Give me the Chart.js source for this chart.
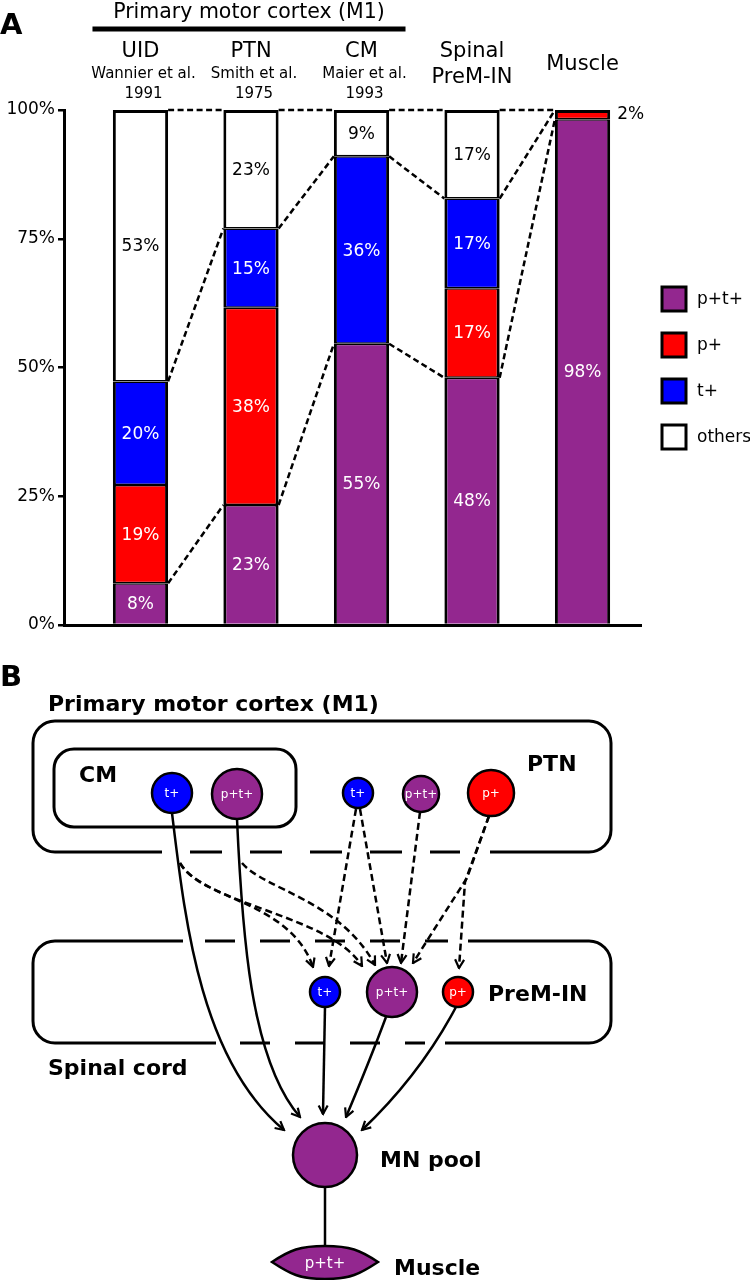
<!DOCTYPE html>
<html>
<head>
<meta charset="utf-8">
<script src="https://cdn.jsdelivr.net/npm/chart.js@4.4.0/dist/chart.umd.min.js"></script>
<style>
  html, body { margin: 0; padding: 0; background: #fff; }
  #wrap { position: relative; width: 750px; height: 1280px; }
  #cA { position: absolute; left: 0; top: 0; }
  #diagB { position: absolute; left: 0; top: 0; }
  #diagB text { font-family: "DejaVu Sans", sans-serif; font-weight: bold; fill: #000; }
  #diagB text.cell { font-weight: normal; fill: #fff; text-anchor: middle; dominant-baseline: central; }
</style>
</head>
<body>
<div id="wrap">
<canvas id="cA" width="750" height="645"></canvas>

<!-- Panel B : skema litar -->
<svg id="diagB" width="750" height="1280" viewBox="0 0 750 1280">
  <defs>
    <marker id="ah" viewBox="0 0 12 12" refX="10.5" refY="6" markerWidth="12" markerHeight="12"
            markerUnits="userSpaceOnUse" orient="auto">
      <path d="M2,1.5 L10.5,6 L2,10.5" fill="none" stroke="#000" stroke-width="2.2" stroke-dasharray="none"/>
    </marker>
  </defs>

  <text x="0" y="686" font-size="29">B</text>
  <text x="48" y="711" font-size="22">Primary motor cortex (M1)</text>

  <!-- kotak M1 -->
  <path d="M162 852 H55 A22 22 0 0 1 33 830 V743 A22 22 0 0 1 55 721 H589 A22 22 0 0 1 611 743 V830 A22 22 0 0 1 589 852 H490"
        fill="none" stroke="#000" stroke-width="3"/>
  <path d="M190 852 H460" stroke="#000" stroke-width="3" stroke-dasharray="32 28"/>
  <rect x="54" y="749" width="242" height="78" rx="20" fill="none" stroke="#000" stroke-width="3"/>
  <text x="79" y="782" font-size="22">CM</text>
  <text x="527" y="771" font-size="22">PTN</text>

  <!-- kotak saraf tunjang -->
  <path d="M183 941 H55 A22 22 0 0 0 33 963 V1021 A22 22 0 0 0 55 1043 H216 M445 1043 H589 A22 22 0 0 0 611 1021 V963 A22 22 0 0 0 589 941 H468"
        fill="none" stroke="#000" stroke-width="3"/>
  <path d="M205 941 H448" stroke="#000" stroke-width="3" stroke-dasharray="30 25"/>
  <path d="M240 1043 H425" stroke="#000" stroke-width="3" stroke-dasharray="30 25"/>
  <text x="488" y="1001" font-size="22">PreM-IN</text>
  <text x="48" y="1075" font-size="22">Spinal cord</text>

  <!-- anak panah putus-putus -->
  <g fill="none" stroke="#000" stroke-width="2.5" stroke-dasharray="7 4" marker-end="url(#ah)">
    <path d="M180 863 C200 900 290 900 313 967"/>
    <path d="M180 863 C205 905 330 915 362 966"/>
    <path d="M242 863 C265 890 340 900 375 965"/>
    <path d="M356 809 L329 966"/>
    <path d="M360 809 L387 963"/>
    <path d="M420 812 L401 963"/>
    <path d="M489 816 L467 878 Q440 920 413 963"/>
    <path d="M489 816 L465 882 L459 968"/>
  </g>

  <!-- anak panah penuh -->
  <g fill="none" stroke="#000" stroke-width="2.5" marker-end="url(#ah)">
    <path d="M172 813 C185 920 200 1060 284 1130"/>
    <path d="M237 819 C242 930 250 1060 300 1117"/>
    <path d="M325 1007 L323 1114"/>
    <path d="M386 1017 Q370 1060 346 1117"/>
    <path d="M456 1007 Q420 1075 362 1130"/>
  </g>
  <path d="M325 1187 V1247" stroke="#000" stroke-width="2.5"/>

  <!-- sel -->
  <g stroke="#000" stroke-width="2.5">
    <circle cx="172" cy="793" r="20" fill="#0000FF"/>
    <circle cx="237" cy="794" r="25" fill="#93278F"/>
    <circle cx="358" cy="793" r="15" fill="#0000FF"/>
    <circle cx="421" cy="794" r="18" fill="#93278F"/>
    <circle cx="491" cy="793" r="23" fill="#FF0000"/>
    <circle cx="325" cy="992" r="15" fill="#0000FF"/>
    <circle cx="392" cy="992" r="25" fill="#93278F"/>
    <circle cx="458" cy="992" r="15" fill="#FF0000"/>
    <circle cx="325" cy="1155" r="32" fill="#93278F"/>
    <path d="M272 1262 C290 1250 300 1246 325 1246 C350 1246 360 1250 378 1262 C360 1274 350 1279 325 1279 C300 1279 290 1274 272 1262 Z" fill="#93278F"/>
  </g>
  <text class="cell" x="172" y="793" font-size="12">t+</text>
  <text class="cell" x="237" y="794" font-size="12">p+t+</text>
  <text class="cell" x="358" y="793" font-size="12">t+</text>
  <text class="cell" x="421" y="794" font-size="12">p+t+</text>
  <text class="cell" x="491" y="793" font-size="12">p+</text>
  <text class="cell" x="325" y="992" font-size="12">t+</text>
  <text class="cell" x="392" y="992" font-size="12">p+t+</text>
  <text class="cell" x="458" y="992" font-size="12">p+</text>
  <text class="cell" x="325" y="1263" font-size="15">p+t+</text>
  <text x="380" y="1167" font-size="22">MN pool</text>
  <text x="394" y="1275" font-size="22">Muscle</text>
</svg>
</div>

<script>
// ==========================================
// PANEL A: carta bar bertindan (%)
// ==========================================

const categories = ['UID', 'PTN', 'CM', 'Spinal\nPreM-IN', 'Muscle'];
const sources = ['Wannier et al.\n1991', 'Smith et al.\n1975', 'Maier et al.\n1993', '', ''];
const groupTitle = 'Primary motor cortex (M1)';   // meliputi 3 kategori pertama

const ptValues    = [8.1, 23.3, 54.6, 48.0, 98.2];  // p+t+
const pValues     = [19.1, 38.3, 0, 17.4, 1.8];     // p+
const tValues     = [20.1, 15.4, 36.4, 17.4, 0];    // t+
const otherValues = [52.7, 23.0, 9.0, 17.2, 0];     // others
const yTicks = [0, 25, 50, 75, 100];

const series = [ptValues, pValues, tValues, otherValues];
const FONT = '"DejaVu Sans", sans-serif';

function edgeWidth(c) {
    if (c.dataIndex === undefined) return 3;
    const i = c.dataIndex, di = c.datasetIndex;
    const isTop = series.slice(di + 1).every(s => !s[i]);
    return { top: isTop ? 3 : 1.5, bottom: di === 0 ? 0 : 1.5, left: 3, right: 3 };
}

function makeBar(label, values, colour, textColor) {
    return {
        label: label,
        data: values.map((v, i) => ({ x: i, y: v || null })),
        backgroundColor: colour, borderColor: '#000', borderWidth: edgeWidth,
        borderSkipped: false, barPercentage: 0.5, categoryPercentage: 1,
        textColor: textColor
    };
}

// label peratus dalam setiap segmen
const barLabels = {
    id: 'barLabels',
    afterDatasetsDraw(chart) {
        const ctx = chart.ctx;
        ctx.save();
        ctx.font = '17px ' + FONT;
        ctx.textBaseline = 'middle';
        chart.data.datasets.forEach((ds, di) => {
            chart.getDatasetMeta(di).data.forEach((el, i) => {
                const v = ds.data[i].y;
                if (!v) return;
                const txt = Math.round(v) + '%';
                const midY = (el.y + el.base) / 2;
                if (Math.abs(el.base - el.y) < 16) {
                    ctx.fillStyle = '#000'; ctx.textAlign = 'left';
                    ctx.fillText(txt, el.x + el.width / 2 + 7, midY);
                } else {
                    ctx.fillStyle = ds.textColor; ctx.textAlign = 'center';
                    ctx.fillText(txt, el.x, midY + 1);
                }
            });
        });
        ctx.restore();
    }
};

// garis putus-putus antara bar
const connectors = {
    id: 'connectors',
    afterDatasetsDraw(chart) {
        const ctx = chart.ctx, y = chart.scales.y;
        const bars = chart.getDatasetMeta(0).data;
        const levelsAt = i => [
            ptValues[i],
            ptValues[i] + pValues[i] + tValues[i],
            ptValues[i] + pValues[i] + tValues[i] + otherValues[i]
        ];
        ctx.save();
        ctx.setLineDash([6, 3.5]);
        ctx.lineWidth = 2.5;
        ctx.strokeStyle = '#000';
        for (let i = 0; i < bars.length - 1; i++) {
            const x1 = bars[i].x + bars[i].width / 2;
            const x2 = bars[i + 1].x - bars[i + 1].width / 2;
            const a = levelsAt(i), b = levelsAt(i + 1);
            a.forEach((lv, k) => {
                ctx.beginPath();
                ctx.moveTo(x1, y.getPixelForValue(lv));
                ctx.lineTo(x2, y.getPixelForValue(b[k]));
                ctx.stroke();
            });
        }
        ctx.restore();
    }
};

// tajuk, label kategori dan petunjuk
const headers = {
    id: 'headers',
    afterDraw(chart) {
        const ctx = chart.ctx, x = chart.scales.x;
        ctx.save();
        ctx.fillStyle = '#000';
        ctx.textBaseline = 'alphabetic';

        ctx.font = 'bold 29px ' + FONT;
        ctx.textAlign = 'left';
        ctx.fillText('A', 0, 34);

        const gx1 = x.getPixelForValue(0) - 48, gx2 = x.getPixelForValue(2) + 44;
        ctx.fillRect(gx1, 26.5, gx2 - gx1, 5);
        ctx.font = '20.5px ' + FONT;
        ctx.textAlign = 'center';
        ctx.fillText(groupTitle, (gx1 + gx2) / 2, 18);

        categories.forEach((name, i) => {
            const cx = x.getPixelForValue(i);
            const lines = name.split('\n');
            ctx.font = '21px ' + FONT;
            if (sources[i]) {
                ctx.fillText(lines[0], cx, 57);
                ctx.font = '15px ' + FONT;
                sources[i].split('\n').forEach((s, k) => ctx.fillText(s, cx + 3, 78 + k * 20));
            } else if (lines.length > 1) {
                lines.forEach((s, k) => ctx.fillText(s, cx, 57 + k * 26));
            } else {
                ctx.fillText(name, cx, 70);
            }
        });

        // petunjuk
        ctx.font = '17px ' + FONT;
        ctx.textAlign = 'left';
        ctx.textBaseline = 'middle';
        ctx.lineWidth = 3;
        ctx.strokeStyle = '#000';
        chart.data.datasets.forEach((ds, k) => {
            const cy = 299 + k * 46;
            ctx.fillStyle = ds.backgroundColor;
            ctx.fillRect(662, cy - 12, 24, 24);
            ctx.strokeRect(662, cy - 12, 24, 24);
            ctx.fillStyle = '#000';
            ctx.fillText(ds.label, 697, cy + 1);
        });
        ctx.restore();
    }
};

new Chart(document.getElementById('cA'), {
    type: 'bar',
    data: {
        datasets: [
            makeBar('p+t+', ptValues, '#93278F', '#fff'),
            makeBar('p+', pValues, '#FF0000', '#fff'),
            makeBar('t+', tValues, '#0000FF', '#fff'),
            makeBar('others', otherValues, '#FFFFFF', '#000')
        ]
    },
    options: {
        responsive: false, animation: false, devicePixelRatio: 1,
        layout: { padding: { left: 0, right: 109, top: 110, bottom: 20 } },
        plugins: { legend: { display: false }, tooltip: { enabled: false } },
        scales: {
            x: {
                type: 'linear', stacked: true, offset: false, min: -0.692, max: 4.529,
                afterBuildTicks: s => { s.ticks = categories.map((_, i) => ({ value: i })); },
                grid: { display: false }, ticks: { display: false },
                border: { color: '#000', width: 3 },
                afterFit: s => { s.height = 0; }
            },
            y: {
                stacked: true, min: 0, max: 100,
                afterFit: s => { s.width = 64; },
                afterBuildTicks: s => { s.ticks = yTicks.map(v => ({ value: v })); },
                ticks: { callback: v => v + '%', color: '#000', font: { family: 'DejaVu Sans', size: 17 }, padding: 3 },
                grid: { drawOnChartArea: false, color: '#000', lineWidth: 2.5, tickLength: 6 },
                border: { color: '#000', width: 3 }
            }
        }
    },
    plugins: [connectors, barLabels, headers]
});
</script>
</body>
</html>
